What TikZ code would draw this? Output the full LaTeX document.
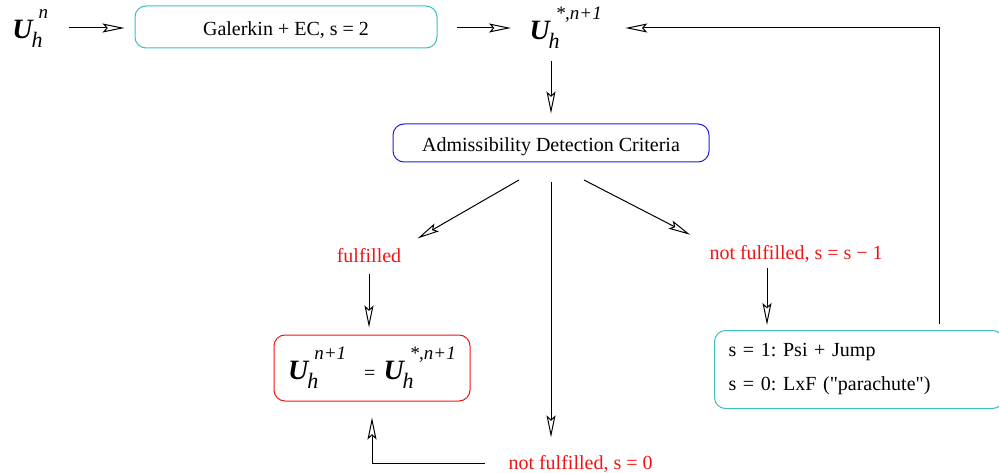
\documentclass[tikz,border=0pt]{standalone}
\usepackage{fontspec}
\setmainfont{Liberation Serif}
\newfontfamily\rawserif{Liberation Serif}
\usetikzlibrary{arrows.meta,calc}
\definecolor{tealc}{RGB}{60,190,190}
\definecolor{bluec}{RGB}{30,30,220}
\definecolor{redc}{RGB}{240,20,20}
\frenchspacing
\newcommand\UUvar[1]{{\fontsize{28}{28}\selectfont\bfseries\itshape U}\kern-1pt\raisebox{-9pt}{\fontsize{22}{22}\selectfont\itshape h}\kern-4pt\raisebox{20pt}{\fontsize{19}{19}\selectfont\itshape #1}}
\begin{document}
\begin{tikzpicture}[x=1pt,y=-1pt, line width=1pt,
 arr/.style={-{Stealth[open,length=22pt,width=9pt,inset=4pt]}},
 box/.style={draw, rounded corners=11pt, line width=1pt, font=\fontsize{20}{24}\selectfont},
 lowtext/.style={text height=18pt, text depth=0pt},
 lbl/.style={inner sep=2pt, font=\fontsize{20}{24}\selectfont, text=redc},
 var/.style={inner sep=0pt}]
\useasboundingbox (0,0) rectangle (999,473);

\node[var, anchor=base west] (Un) at (12,39) {\UUvar{n}};
\node[var, anchor=base west] (Us) at (529,40) {\UUvar{*,n+1}};
\node[box, lowtext, draw=tealc, minimum width=302pt, minimum height=42pt] (G) at (286,27) {Galerkin + EC, s = 2};
\node[box, lowtext, draw=bluec, minimum width=316pt, minimum height=38pt] (A) at (551,143) {Admissibility Detection Criteria};
\node[lbl, anchor=base] (F) at (369,263) {fulfilled};
\node[lbl, anchor=base west] (N1) at (707,260) {not fulfilled, s = s − 1};
\node[lbl, anchor=base west] (N0) at (506,469) {not fulfilled, s = 0};
\node[box, draw=redc, minimum width=196pt, minimum height=66pt] (E) at (372,368) {\UUvar{n+1}\hspace{18pt}=\hspace{8pt}\UUvar{*,n+1}};
\node[box, draw=tealc, font=\fontsize{20}{34}\selectfont, inner xsep=14pt, text width=261pt, align=left, minimum height=78pt, anchor=north west] (R) at (714,330) {\raisebox{-3pt}{s = 1: Psi + Jump}\\ \raisebox{-3pt}{s = 0: LxF ({\rawserif"}parachute{\rawserif"})}};

\coordinate (a1) at (69,28);
\draw[arr, shorten >=10pt] (a1) -- (a1 -| G.west);
\draw[arr, shorten <=19pt, shorten >=18pt] (a1 -| G.east) -- (a1 -| Us.west);
\coordinate (rb) at (939,324);
\draw[arr, shorten >=23pt] (rb) -- (rb |- a1) -- (a1 -| Us.east);
\coordinate (d0) at (551,61);
\draw[arr, shorten >=10pt] (d0) -- (d0 |- A.north);
\coordinate (dl) at (519,180);
\coordinate (dm) at (551,182);
\coordinate (dr) at (584,180);
\draw[arr, shorten >=16pt] (dl) -- (F.north east);
\draw[arr, shorten >=15pt] (dm) -- (dm |- N0.north);
\draw[arr, shorten >=19pt] (dr) -- (N1.north west);
\draw[arr, shorten <=8pt, shorten >=7pt] (F.south) -- (F.south |- E.north);
\coordinate (n1s) at (767,268);
\draw[arr, shorten >=5pt] (n1s) -- (n1s |- R.north);
\draw[arr, shorten <=21pt, shorten >=16pt] (N0.west) -| (E.south);
\end{tikzpicture}
\end{document}
